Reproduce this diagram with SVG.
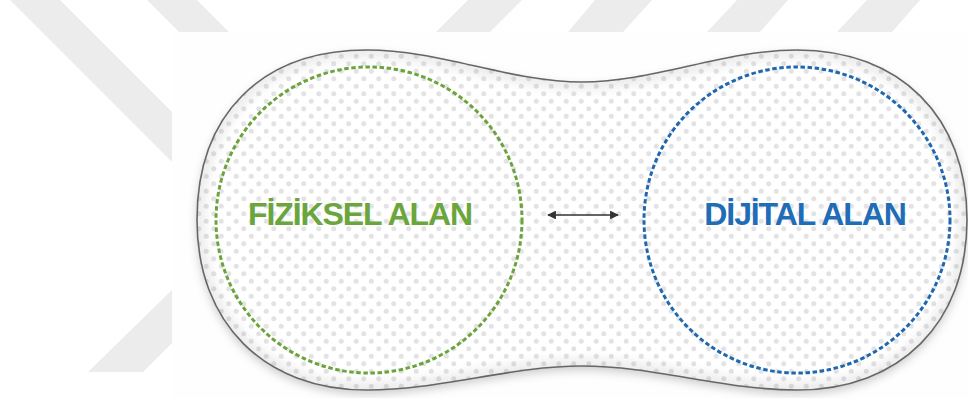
<svg xmlns="http://www.w3.org/2000/svg" width="968" height="398" viewBox="0 0 968 398">
  <style>
    .wm { fill: #ececec; }
    .label { font-family: "Liberation Sans", Arial, sans-serif; font-weight: bold; font-size: 32px; letter-spacing: -1.1px; text-anchor: middle; }
    .ring { fill: none; stroke-width: 3; stroke-dasharray: 4.5 2.6; }
    .conn { stroke: #333333; stroke-width: 1.6; fill: none; }
  </style>
  <defs>
    <pattern id="dots" width="15" height="15" patternUnits="userSpaceOnUse">
      <rect width="15" height="15" fill="#ffffff"/>
      <circle cx="3.75" cy="3.75" r="2.5" fill="#e3e3e5"/>
      <circle cx="11.25" cy="11.25" r="2.5" fill="#e3e3e5"/>
    </pattern>
    <path id="blobPath" d="M367,50 C440,50 510,82 582,82 C654,82 724,50 797,50 C900,50 967,117 967,220 C967,323 900,390 797,390 C724,390 654,366 582,366 C510,366 440,390 367,390 C264,390 197,323 197,220 C197,114 262,50 367,50 Z"/>
    <clipPath id="blobClip"><use href="#blobPath"/></clipPath>
    <filter id="shadow" x="-10%" y="-15%" width="120%" height="135%">
      <feDropShadow dx="0" dy="4" stdDeviation="5" flood-color="#000000" flood-opacity="0.2"/>
    </filter>
    <filter id="blur" x="-10%" y="-10%" width="120%" height="120%">
      <feGaussianBlur stdDeviation="5"/>
    </filter>
    <marker id="arrow" viewBox="0 0 10 10" refX="9" refY="5" markerWidth="5.5" markerHeight="5.5" orient="auto-start-reverse" markerUnits="strokeWidth">
      <path d="M0,0 L10,5 L0,10 Z" fill="#333333"/>
    </marker>
  </defs>

  <g id="background">
    <rect width="968" height="398" fill="#ffffff"/>
    <polygon class="wm" points="10,0 60,0 172,112 172,162"/>
    <polygon class="wm" points="147,0 197,0 229,32 179,32"/>
    <polygon class="wm" points="468,0 522,0 490,32 436,32"/>
    <polygon class="wm" points="595,0 652,0 623,32 568,32"/>
    <polygon class="wm" points="737,0 788,0 760,32 707,32"/>
    <polygon class="wm" points="867,0 920,0 892,32 837,32"/>
    <polygon class="wm" points="88,372 172,290 172,343 143,372"/>
    <rect x="172" y="32" width="796" height="366" fill="#fefefe"/>
  </g>

  <g id="blob">
    <use href="#blobPath" fill="#ffffff" filter="url(#shadow)"/>
    <use href="#blobPath" fill="url(#dots)"/>
    <g clip-path="url(#blobClip)">
      <use href="#blobPath" fill="none" stroke="#000000" stroke-opacity="0.07" stroke-width="16" filter="url(#blur)"/>
    </g>
    <use href="#blobPath" fill="none" stroke="#666666" stroke-width="1.6"/>
  </g>

  <g id="node-fiziksel">
    <circle class="ring" cx="369" cy="220" r="153" stroke="#6ba43a"/>
    <text class="label" x="360" y="225" fill="#6ba63c">FİZİKSEL ALAN</text>
  </g>

  <g id="node-dijital">
    <circle class="ring" cx="797" cy="220" r="153" stroke="#1f67b0"/>
    <text class="label" x="805" y="225" fill="#1f6db6">DİJİTAL ALAN</text>
  </g>

  <g id="connectors">
    <line class="conn" x1="548" y1="215" x2="618" y2="215" marker-start="url(#arrow)" marker-end="url(#arrow)"/>
  </g>
</svg>
